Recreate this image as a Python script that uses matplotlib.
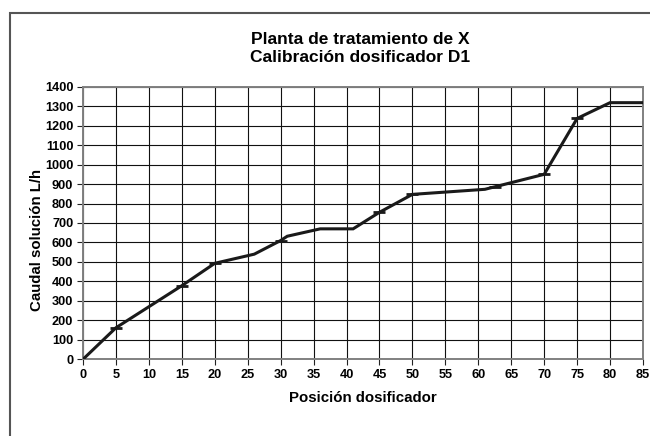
import matplotlib
matplotlib.use("Agg")
import matplotlib.pyplot as plt
from matplotlib.patches import Rectangle

plt.rcParams["font.family"] = ["Liberation Sans", "DejaVu Sans"]

# curve vertices (posicion, caudal L/h)
pos = [0, 5, 15, 20, 26, 30, 31, 36, 41, 45, 50, 61, 70, 75, 80, 85]
caudal = [0, 162, 378, 493, 540, 610, 632, 670, 670, 755, 847, 873, 950, 1237, 1318, 1318]

# measured calibration points (short dashes on the curve)
mark_pos = [5, 15, 20, 30, 45, 50, 62.5, 70, 75]
mark_caudal = [162, 378, 493, 610, 755, 847, 886, 950, 1237]

xticks = list(range(0, 90, 5))
yticks = list(range(0, 1500, 100))

fig = plt.figure(figsize=(6.5, 4.36), dpi=100)
ax = fig.add_axes([83 / 650, 1 - 359.3 / 436, 560 / 650, 272.6 / 436])

ax.plot(pos, caudal, color="#1a1a1a", linewidth=2.2, solid_joinstyle="miter", zorder=3)
ax.plot(mark_pos, mark_caudal, linestyle="none", marker="_", markersize=9,
        markeredgewidth=2.0, color="#1a1a1a", zorder=4)

ax.set_xlim(0, 85)
ax.set_ylim(0, 1400)
ax.set_xticks(xticks)
ax.set_yticks(yticks)
ax.grid(True, color="#111111", linewidth=0.8)
ax.set_axisbelow(True)
for s in ax.spines.values():
    s.set_color("#808080")
    s.set_linewidth(1.4)
ax.tick_params(axis="both", direction="out", length=4, width=0.8, color="#222222",
               labelsize=9.2, pad=3)
for lab in ax.get_xticklabels() + ax.get_yticklabels():
    lab.set_fontweight("bold")

ax.set_xlabel("Posición dosificador", fontsize=10.8, fontweight="bold")
ax.xaxis.set_label_coords(0.5, -(391 - 359.3) / 272.6)
ax.set_ylabel("Caudal solución L/h", fontsize=10.8, fontweight="bold")
ax.yaxis.set_label_coords((44 - 83) / 560, (359.3 - 240) / 272.6)

fig.text(360 / 650, 1 - 48 / 436, "Planta de tratamiento de X\nCalibración dosificador D1",
         ha="center", va="center", fontsize=12.5, fontweight="bold", linespacing=1.25)

# outer chart frame
fig.patches.append(Rectangle((10 / 650, -0.05), 1.0, 1 - 13 / 436 + 0.05,
                             transform=fig.transFigure, fill=False,
                             edgecolor="#555555", linewidth=1.5))

fig.savefig("out.png", dpi=100)
